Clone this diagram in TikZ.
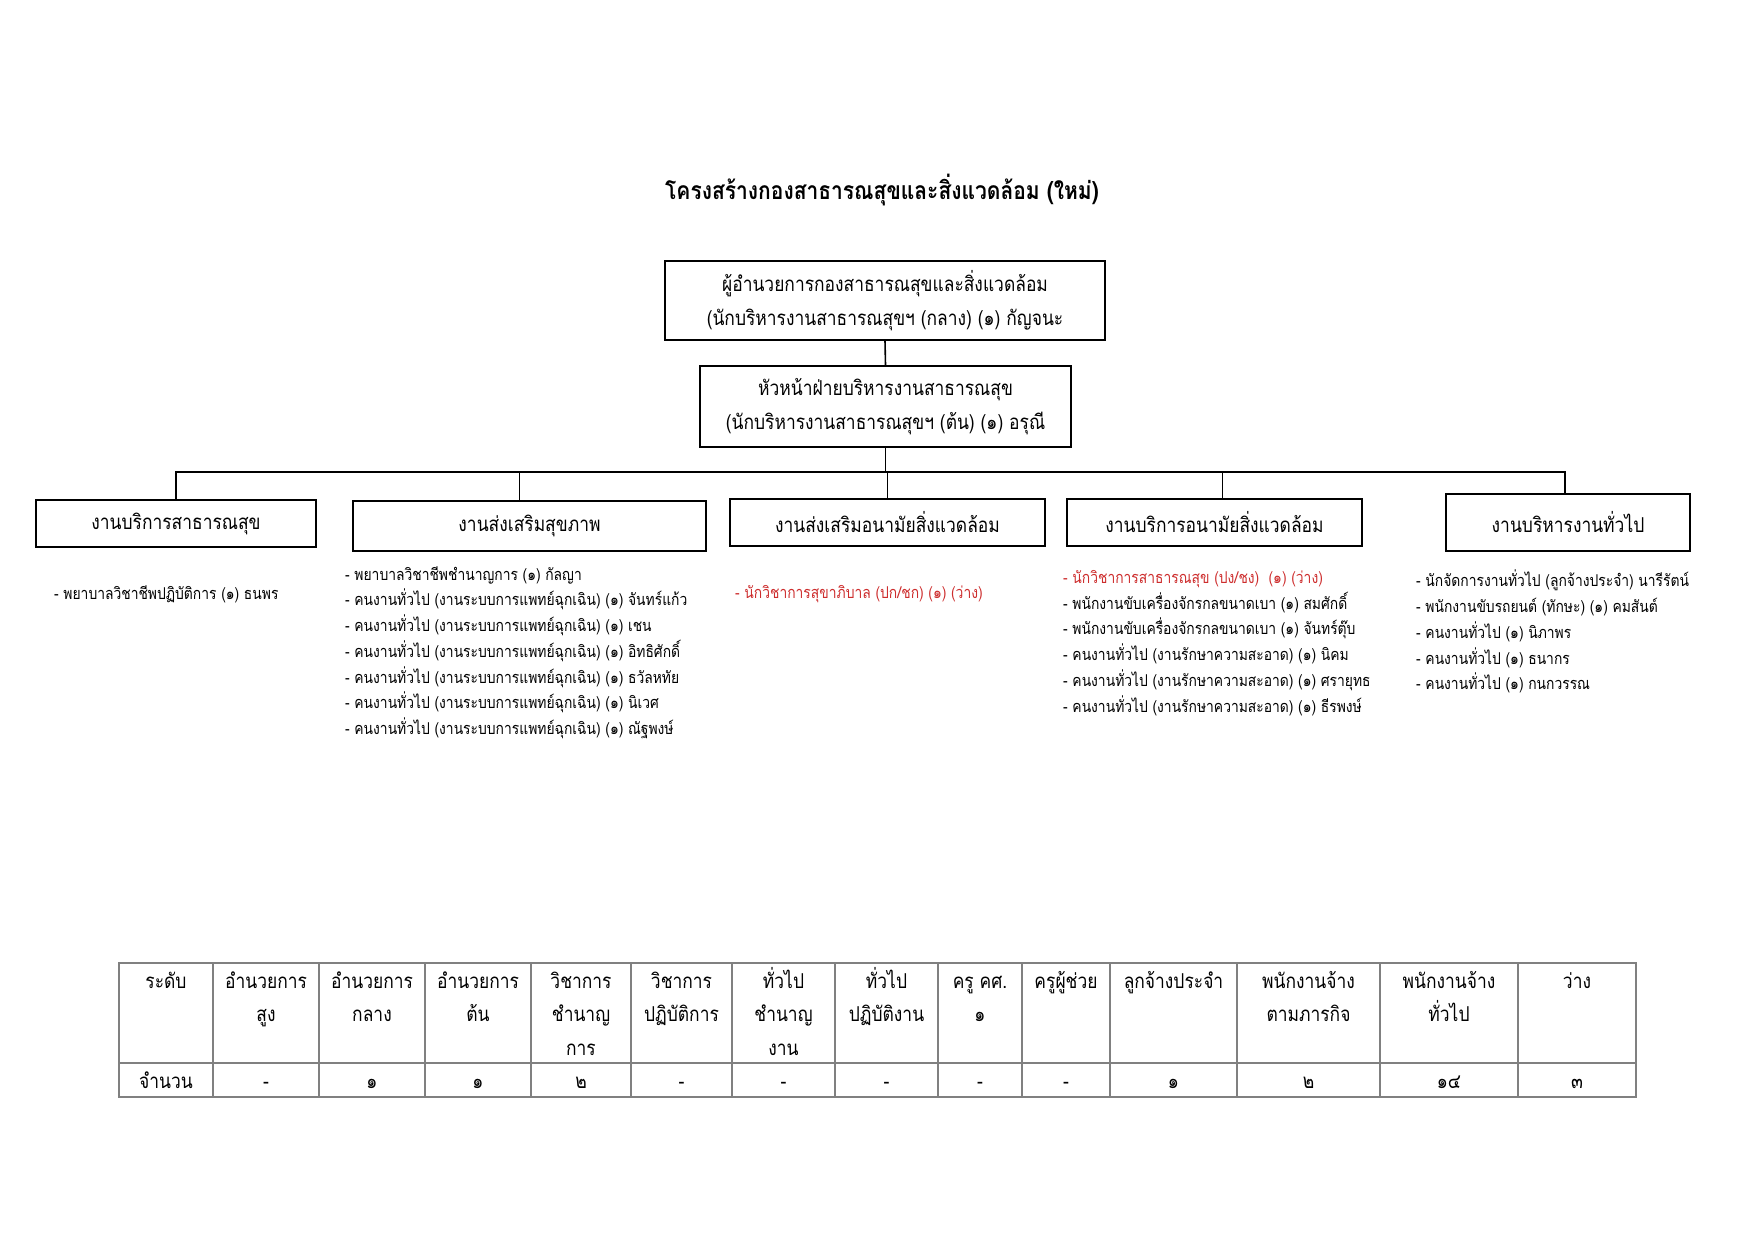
\documentclass[tikz,border=0pt]{standalone}
\usepackage{fontspec}
\setmainfont[Script=Thai,FakeStretch=0.85]{Loma}
\definecolor{vacant}{RGB}{205,45,45}

\begin{document}
\begin{tikzpicture}[x=1pt,y=-1pt,
  box/.style={draw,line width=1.6pt,inner sep=0pt,align=center},
  list/.style={anchor=north west,align=left,inner sep=0pt,font=\fontsize{16.3}{25.75}\selectfont},
  cell/.style={inner sep=0pt,align=center,font=\fontsize{20.5}{33.6}\selectfont}]
\useasboundingbox (0,0) rectangle (1755,1241);
\node[font=\fontsize{24.7}{28}\selectfont\bfseries] (title) at (882,190) {โครงสร้างกองสาธารณสุขและสิ่งแวดล้อม (ใหม่)};
\node[box,minimum width=440,minimum height=79,font=\fontsize{20.5}{33.5}\selectfont] (head) at (885,300.5)
  {ผู้อำนวยการกองสาธารณสุขและสิ่งแวดล้อม\\(นักบริหารงานสาธารณสุขฯ (กลาง) (๑) กัญจนะ};
\node[box,minimum width=371,minimum height=81,font=\fontsize{20.5}{33.5}\selectfont] (deputy) at (885.5,406.5)
  {หัวหน้าฝ่ายบริหารงานสาธารณสุข\\(นักบริหารงานสาธารณสุขฯ (ต้น) (๑) อรุณี};
\node[box,minimum width=280,minimum height=47,font=\fontsize{20.5}{24}\selectfont] (svc) at (176,523.5) {งานบริการสาธารณสุข};
\node[box,minimum width=353,minimum height=50,font=\fontsize{20.5}{24}\selectfont] (promo) at (529.5,526) {งานส่งเสริมสุขภาพ};
\node[box,minimum width=315,minimum height=47,font=\fontsize{20.5}{24}\selectfont] (envpro) at (887.5,522.5) {งานส่งเสริมอนามัยสิ่งแวดล้อม};
\node[box,minimum width=295,minimum height=47,font=\fontsize{20.5}{24}\selectfont] (envsvc) at (1214.5,522.5) {งานบริการอนามัยสิ่งแวดล้อม};
\node[box,minimum width=244,minimum height=57,font=\fontsize{20.5}{24}\selectfont] (admin) at (1568,522.5) {งานบริหารงานทั่วไป};
\coordinate (bus) at (885.5,472);
\draw[line width=1.6pt] (head.south) -- (deputy.north);
\draw[line width=1.6pt] (deputy.south) -- (bus);
\draw[line width=1.6pt] (svc.north) |- (bus) -| ([xshift=-3pt]admin.north);
\foreach \n/\d in {promo/-10,envpro/0,envsvc/8}
  \draw[line width=1.6pt] ([xshift=\d pt]\n.north) -- ([xshift=\d pt]\n.north |- bus);

\node[list] (svclist) at (54,585) {- พยาบาลวิชาชีพปฏิบัติการ (๑) ธนพร};
\node[list] (promolist) at (345,566) {- พยาบาลวิชาชีพชำนาญการ (๑) กัลญา\\
  - คนงานทั่วไป (งานระบบการแพทย์ฉุกเฉิน) (๑) จันทร์แก้ว\\
  - คนงานทั่วไป (งานระบบการแพทย์ฉุกเฉิน) (๑) เชน\\
  - คนงานทั่วไป (งานระบบการแพทย์ฉุกเฉิน) (๑) อิทธิศักดิ์\\
  - คนงานทั่วไป (งานระบบการแพทย์ฉุกเฉิน) (๑) ธวัลหทัย\\
  - คนงานทั่วไป (งานระบบการแพทย์ฉุกเฉิน) (๑) นิเวศ\\
  - คนงานทั่วไป (งานระบบการแพทย์ฉุกเฉิน) (๑) ณัฐพงษ์};
\node[list,text=vacant] (envprolist) at (735,585) {- นักวิชาการสุขาภิบาล (ปก/ชก) (๑) (ว่าง)};
\node[list] (envsvclist) at (1063,570) {\textcolor{vacant}{- นักวิชาการสาธารณสุข (ปง/ชง)\ \ (๑) (ว่าง)}\\
  - พนักงานขับเครื่องจักรกลขนาดเบา (๑) สมศักดิ์\\
  - พนักงานขับเครื่องจักรกลขนาดเบา (๑) จันทร์ตุ๊บ\\
  - คนงานทั่วไป (งานรักษาความสะอาด) (๑) นิคม\\
  - คนงานทั่วไป (งานรักษาความสะอาด) (๑) ศรายุทธ\\
  - คนงานทั่วไป (งานรักษาความสะอาด) (๑) ธีรพงษ์};
\node[list] (adminlist) at (1416,570) {- นักจัดการงานทั่วไป (ลูกจ้างประจำ) นารีรัตน์\\
  - พนักงานขับรถยนต์ (ทักษะ) (๑) คมสันต์\\
  - คนงานทั่วไป (๑) นิภาพร\\
  - คนงานทั่วไป (๑) ธนากร\\
  - คนงานทั่วไป (๑) กนกวรรณ};

\draw[gray,line width=1.6pt] (119,963) rectangle (1636,1097);
\draw[gray,line width=1.6pt] (119,1063) -- (1636,1063);
\foreach \x in {213,319,425,531,631,732,835,938,1022,1110,1237,1380,1518}
  \draw[gray,line width=1.6pt] (\x,963) -- (\x,1097);
\foreach \x/\t/\c [count=\i] in {166/ระดับ/จำนวน, 266/อำนวยการ\\สูง/-, 372/อำนวยการ\\กลาง/๑,
    478/อำนวยการ\\ต้น/๑, 581/วิชาการ\\ชำนาญ\\การ/๒, 681.5/วิชาการ\\ปฏิบัติการ/-,
    783.5/ทั่วไป\\ชำนาญ\\งาน/-, 886.5/ทั่วไป\\ปฏิบัติงาน/-, 980/ครู คศ.\\๑/-,
    1066/ครูผู้ช่วย/-, 1173.5/ลูกจ้างประจำ/๑, 1308.5/พนักงานจ้าง\\ตามภารกิจ/๒,
    1449/พนักงานจ้าง\\ทั่วไป/๑๔, 1577/ว่าง/๓} {
  \node[cell,anchor=north] (lv\i) at (\x,966) {\rule{0pt}{22pt}\t};
  \node[cell,anchor=base] (nm\i) at (\x,1088) {\c};
}
\end{tikzpicture}
\end{document}
